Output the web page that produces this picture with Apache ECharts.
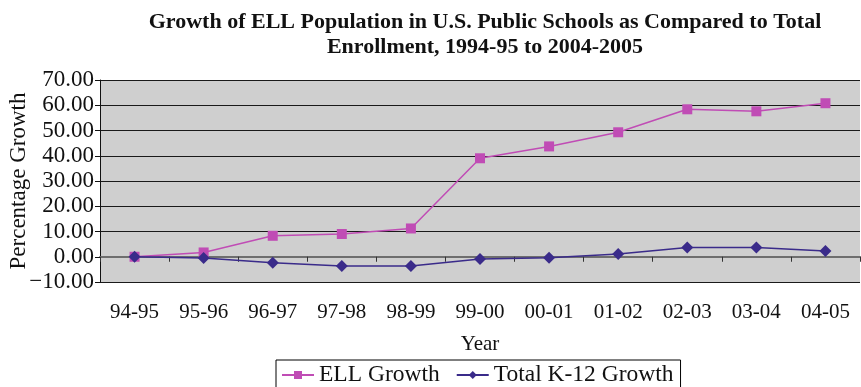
<!DOCTYPE html>
<html>
<head>
<meta charset="utf-8">
<script src="https://cdn.jsdelivr.net/npm/echarts@6/dist/echarts.min.js"></script>
<style>
    html, body { margin: 0; padding: 0; background: #fff; }
    #chart { width: 861px; height: 387px; }
</style>
</head>
<body>
<div id="chart"></div>
<script>
const years = ['94-95', '95-96', '96-97', '97-98', '98-99', '99-00', '00-01', '01-02', '02-03', '03-04', '04-05']
const ellGrowth = [0, 1.7, 8.3, 9.0, 11.2, 39.0, 43.7, 49.3, 58.4, 57.6, 60.8]
const totalGrowth = [0, -0.5, -2.4, -3.7, -3.7, -0.9, -0.4, 1.1, 3.7, 3.7, 2.3]
const yMin = -10
const yMax = 70
const yStep = 10

const serif = 'Liberation Serif'

const chart = echarts.init(document.getElementById('chart'))

const option = {
    animation: false,
    title: [
        {
            text: 'Growth of ELL Population in U.S. Public Schools as Compared to Total',
            left: 480,
            top: 6,
            textAlign: 'center',
            textStyle: { fontFamily: serif, fontWeight: 'bold', fontSize: 22, color: '#111' },
        },
        {
            text: 'Enrollment, 1994-95 to 2004-2005',
            left: 480,
            top: 31,
            textAlign: 'center',
            textStyle: { fontFamily: serif, fontWeight: 'bold', fontSize: 22, color: '#111' },
        },
    ],
    grid: {
        left: 100,
        right: 1,
        top: 80,
        bottom: 105,
        outerBoundsMode: 'none',
        show: true,
        backgroundColor: '#cfcfcf',
        borderWidth: 0,
    },
    legend: {
        bottom: -8,
        left: 276,
        padding: [3, 7, 8, 5],
        borderColor: '#000',
        borderWidth: 1,
        itemWidth: 32,
        itemHeight: 10,
        itemGap: 16,
        textStyle: { fontFamily: serif, fontSize: 23.5, color: '#111' },
        data: ['ELL Growth', 'Total K-12 Growth'],
    },
    xAxis: [
        {
            type: 'category',
            data: years,
            name: 'Year',
            nameLocation: 'middle',
            nameGap: 52,
            nameMoveOverlap: false,
            nameTextStyle: { fontFamily: serif, fontSize: 21, color: '#111' },
            axisLine: { show: false, onZero: false },
            axisTick: { show: false },
            axisLabel: { fontFamily: serif, fontSize: 21, color: '#111', margin: 20 },
        },
        {
            type: 'category',
            data: years,
            position: 'bottom',
            axisLine: { show: true, onZero: true, lineStyle: { color: '#6e6e6e', width: 2 } },
            axisTick: { show: true, length: 5, lineStyle: { color: '#333', width: 1 } },
            axisLabel: { show: false },
        },
    ],
    yAxis: {
        type: 'value',
        min: yMin,
        max: yMax,
        interval: yStep,
        name: 'Percentage Growth',
        nameLocation: 'middle',
        nameGap: 70,
        nameMoveOverlap: false,
        nameTextStyle: { fontFamily: serif, fontSize: 23, color: '#111' },
        axisLine: { show: true, lineStyle: { color: '#111', width: 1 } },
        axisTick: { show: true, length: 5, lineStyle: { color: '#111' } },
        axisLabel: {
            fontFamily: serif,
            fontSize: 23,
            color: '#111',
            margin: 6,
            formatter: (v) => (v < 0 ? '\u2212' + Math.abs(v).toFixed(2) : v.toFixed(2)),
        },
        splitLine: { lineStyle: { color: '#1a1a1a', width: 1 } },
    },
    series: [
        {
            name: 'ELL Growth',
            type: 'line',
            data: ellGrowth,
            symbol: 'rect',
            symbolSize: 10,
            itemStyle: { color: '#c04cb5' },
            lineStyle: { color: '#c04cb5', width: 1.5 },
        },
        {
            name: 'Total K-12 Growth',
            type: 'line',
            data: totalGrowth,
            symbol: 'diamond',
            symbolSize: 12,
            itemStyle: { color: '#3a2b8a' },
            lineStyle: { color: '#3a2b8a', width: 1.5 },
        },
    ],
}

chart.setOption(option)
</script>
</body>
</html>
